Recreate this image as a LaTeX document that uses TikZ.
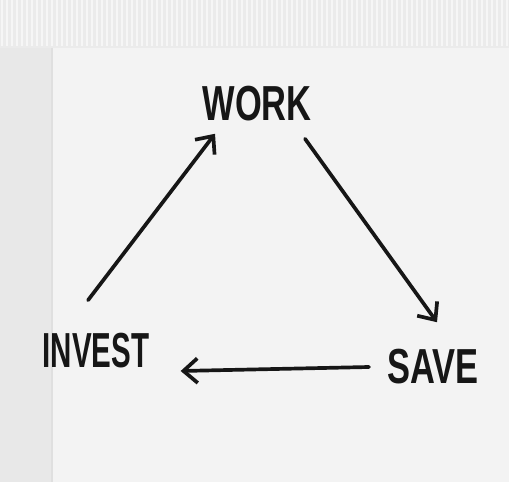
\documentclass[tikz,border=0pt]{standalone}
\usepackage{fontspec}
\setmainfont{Liberation Sans}
\usetikzlibrary{arrows.meta}

\definecolor{napkin}{HTML}{F3F3F3}
\definecolor{hem}{HTML}{EBEBEB}
\definecolor{fold}{HTML}{E8E8E8}
\definecolor{ink}{HTML}{161616}

\tikzset{
	word/.style={font=\fontsize{28}{30}\selectfont\bfseries, text=ink, inner sep=0pt},
	stroke/.style={->, ink, line width=2.1pt, line cap=round}
}

\begin{document}
\begin{tikzpicture}[x=0.02cm, y=-0.02cm, >={Straight Barb[length=8pt, width=14pt]}]
	% napkin
	\useasboundingbox (0,0) rectangle (509,482);
	\fill[napkin] (0,0) rectangle (509,482);
	\fill[hem] (0,0) rectangle (509,48);
	\fill[fold] (0,48) rectangle (52,482);
	\foreach \x in {2,7,...,508}
		\draw[white!55!hem, line width=0.8pt] (\x,0) -- (\x,46);
	\draw[gray!25, line width=0.8pt] (52,48) -- (52,482);
	
	\node[word] (work) at (257, 104) {\scalebox{0.7}[1]{WORK}};
	\node[word] (save) at (433, 367) {\scalebox{0.7}[1]{SAVE}};
	\node[word] (invest) at (96, 351) {\scalebox{0.6}[1]{INVEST}};
	
	\draw[stroke] ([shift={(-8,-33)}]invest.north) -- ([shift={(-42,12)}]work.south);
	\draw[stroke] ([shift={(48,17)}]work.south) -- ([shift={(4,-27)}]save.north);
	\draw[stroke] ([shift={(-18,0)}]save.west) -- ([shift={(31,20)}]invest.east);
\end{tikzpicture}
\end{document}
